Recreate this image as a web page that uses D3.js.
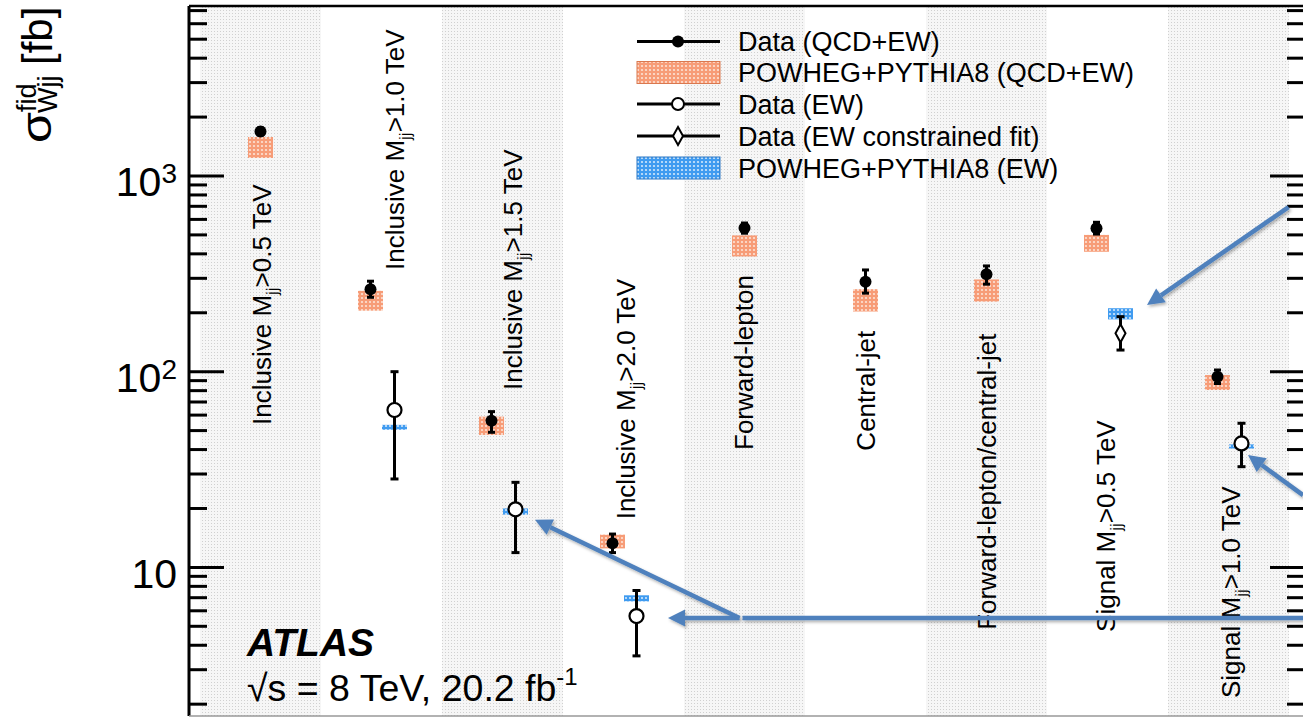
<!DOCTYPE html>
<html><head><meta charset="utf-8">
<script src="https://cdn.jsdelivr.net/npm/d3@7"></script>
<style>
html,body{margin:0;padding:0;background:#fff;}
svg{display:block;font-family:"Liberation Sans",Arial,Helvetica,sans-serif;}
</style></head>
<body>
<svg id="chart" width="1303" height="717"></svg>
<script>
// ---------------- data ----------------
const categories = [
  "Inclusive M_jj>0.5 TeV",
  "Inclusive M_jj>1.0 TeV",
  "Inclusive M_jj>1.5 TeV",
  "Inclusive M_jj>2.0 TeV",
  "Forward-lepton",
  "Central-jet",
  "Forward-lepton/central-jet",
  "Signal M_jj>0.5 TeV",
  "Signal M_jj>1.0 TeV"
];
// Data (QCD+EW)
const qcdData   = [1690, 264, 56.2, 13.3, 542, 288, 315, 540, 94.3];
const qcdErrLo  = [1620, 240, 49.0, 11.9, 510, 252, 280, 505, 87];
const qcdErrHi  = [1760, 290, 62.5, 14.8, 575, 331, 347, 580, 102];
// POWHEG+PYTHIA8 (QCD+EW) band
const qcdPredLo = [1236, 205, 47.5, 12.5, 388, 203, 228, 410, 80.6];
const qcdPredHi = [1582, 259, 58.9, 14.7, 497, 264, 296, 500, 96.1];
// Data (EW)
const ewData    = [null, 63.7, 19.8, 5.64, null, null, null, null, 43.0];
const ewErrLo   = [null, 28.3, 11.9, 3.53, null, null, null, null, 32.7];
const ewErrHi   = [null, 100, 27.2, 7.62, null, null, null, null, 54.5];
// Data (EW constrained fit)
const ewFit     = [null, null, null, null, null, null, null, 157, null];
const ewFitLo   = [null, null, null, null, null, null, null, 129, null];
const ewFitHi   = [null, null, null, null, null, null, null, 191, null];
// POWHEG+PYTHIA8 (EW) band
const ewPredLo  = [null, 50.5, 18.6, 6.7, null, null, null, 185, 40.5];
const ewPredHi  = [null, 53.5, 20.0, 7.2, null, null, null, 211, 42.5];
// y value where each rotated category label starts
const labelStart = [53.4, 331, 80.6, 17.6, 39.8, 39.5, 4.8, 4.68, 2.15];
// axis ticks
const majorTicks = [10, 100, 1000];
const majorTickLabels = [["10", ""], ["10", "2"], ["10", "3"]];
const yDomain = [1.74, 7390];
const legendItems = [
  {type: "dot",     label: "Data (QCD+EW)"},
  {type: "qcdBox",  label: "POWHEG+PYTHIA8 (QCD+EW)"},
  {type: "circle",  label: "Data (EW)"},
  {type: "diamond", label: "Data (EW constrained fit)"},
  {type: "ewBox",   label: "POWHEG+PYTHIA8 (EW)"}
];
// annotation arrows (anchored to categories / values)
const arrows = [
  {from: [8, 60, 694],  to: [7, 39.5, 219], head: true},
  {from: [8, 74.5, 23.4], to: [8, 19.5, 37.5], head: true},
  {from: [4, -5, 5.51], to: [3, 44.5, 5.51], head: true},
  {from: [4, -5, 5.51], to: [2, 32.5, 17.5], head: true},
  {from: [4, -2, 5.51], to: [8, 90, 5.51], head: false}
];

// ---------------- layout ----------------
const svg = d3.select("#chart");
const frame = {left: 189, right: 1305, top: 6, bottom: 716};
const x = d3.scaleBand().domain(d3.range(categories.length)).range([200, 1289]).padding(0);
const y = d3.scaleLog().domain(yDomain).range([frame.bottom, frame.top]);
const cx = i => x(i) + x.bandwidth() / 2;
const hasEW = i => ewData[i] != null || ewFit[i] != null;
const qx = i => cx(i) + (hasEW(i) ? -11 : 0);
const ex = i => cx(i) + 13;

const defs = svg.append("defs");
function dotPattern(id, size, bg, dot, r) {
  const p = defs.append("pattern").attr("id", id).attr("patternUnits", "userSpaceOnUse")
    .attr("width", size).attr("height", size);
  p.append("rect").attr("width", size).attr("height", size).attr("fill", bg);
  p.append("circle").attr("cx", size / 2).attr("cy", size / 2).attr("r", r).attr("fill", dot);
}
(function(){
  const p = defs.append("pattern").attr("id", "bgDots").attr("patternUnits", "userSpaceOnUse")
    .attr("width", 3).attr("height", 3);
  p.append("rect").attr("width", 3).attr("height", 3).attr("fill", "#f6f6f6");
  p.append("rect").attr("x", 1).attr("y", 1).attr("width", 1).attr("height", 1).attr("fill", "#d0d0d0");
})();
dotPattern("orangeHatch", 4, "#f79c77", "#fde3d6", 1.1);
dotPattern("blueHatch", 4, "#3f9bf0", "#d2e8fc", 1.1);
const shadow = defs.append("filter").attr("id", "shadow").attr("x", "-20%").attr("y", "-20%").attr("width", "140%").attr("height", "140%");
shadow.append("feDropShadow").attr("dx", 1.5).attr("dy", 2).attr("stdDeviation", 1.5).attr("flood-color", "#000").attr("flood-opacity", 0.3);

// shaded alternating columns
svg.append("g").selectAll("rect").data(d3.range(categories.length).filter(i => i % 2 === 0)).join("rect")
  .attr("x", i => x(i)).attr("width", x.bandwidth())
  .attr("y", frame.top).attr("height", frame.bottom - frame.top)
  .attr("fill", "url(#bgDots)");

// category labels (rotated)
const labG = svg.append("g").attr("font-size", 26).attr("fill", "#000");
categories.forEach((c, i) => {
  const off = [10.5, 22, 19.5, 11, 8, 9, 9, 7.5, 11.5][i];
  const t = labG.append("text")
    .attr("transform", `translate(${cx(i) + off},${y(labelStart[i])}) rotate(-90)`);
  const parts = c.split("_jj");
  t.append("tspan").text(parts[0]);
  if (parts.length > 1) {
    t.append("tspan").attr("font-size", 17).attr("dy", 7).text("jj");
    t.append("tspan").attr("dy", -7).text(parts[1]);
  }
});

// POWHEG QCD+EW bands
svg.append("g").selectAll("rect").data(d3.range(categories.length)).join("rect")
  .attr("x", i => qx(i) - 12.5).attr("width", 25)
  .attr("y", i => y(qcdPredHi[i])).attr("height", i => y(qcdPredLo[i]) - y(qcdPredHi[i]))
  .attr("fill", "url(#orangeHatch)");
// POWHEG EW bands
const ewIdx = d3.range(categories.length).filter(i => ewPredLo[i] != null);
svg.append("g").selectAll("rect").data(ewIdx).join("rect")
  .attr("x", i => ex(i) - 12.5).attr("width", 25)
  .attr("y", i => y(ewPredHi[i])).attr("height", i => Math.max(2.5, y(ewPredLo[i]) - y(ewPredHi[i])))
  .attr("fill", "url(#blueHatch)");

// error bars
function errBar(g, xpos, lo, hi, cap) {
  g.append("line").attr("x1", xpos).attr("x2", xpos).attr("y1", y(lo)).attr("y2", y(hi))
    .attr("stroke", "#000").attr("stroke-width", 3);
  [lo, hi].forEach(v => g.append("line").attr("x1", xpos - cap).attr("x2", xpos + cap)
    .attr("y1", y(v)).attr("y2", y(v)).attr("stroke", "#000").attr("stroke-width", 3));
}
const marks = svg.append("g");
d3.range(categories.length).forEach(i => {
  errBar(marks, qx(i), qcdErrLo[i], qcdErrHi[i], 3.5);
  if (ewData[i] != null) errBar(marks, ex(i), ewErrLo[i], ewErrHi[i], 4);
  if (ewFit[i] != null) errBar(marks, ex(i), ewFitLo[i], ewFitHi[i], 4);
});
marks.selectAll("circle.qcd").data(d3.range(categories.length)).join("circle").attr("class", "qcd")
  .attr("cx", i => qx(i)).attr("cy", i => y(qcdData[i])).attr("r", 6).attr("fill", "#000");
marks.selectAll("circle.ew").data(d3.range(categories.length).filter(i => ewData[i] != null)).join("circle").attr("class", "ew")
  .attr("cx", i => ex(i)).attr("cy", i => y(ewData[i])).attr("r", 7)
  .attr("fill", "#fff").attr("stroke", "#000").attr("stroke-width", 2.2);
const diamond = (px, py) => `M${px},${py - 9}L${px + 5},${py}L${px},${py + 9}L${px - 5},${py}Z`;
marks.selectAll("path.fit").data(d3.range(categories.length).filter(i => ewFit[i] != null)).join("path").attr("class", "fit")
  .attr("d", i => diamond(ex(i), y(ewFit[i])))
  .attr("fill", "#fff").attr("stroke", "#000").attr("stroke-width", 2);

// frame & axes
const minorTicks = y.ticks().filter(v => !majorTicks.includes(v));
function drawAxis(xPos, dir) {
  const g = svg.append("g");
  g.append("line").attr("x1", xPos).attr("x2", xPos).attr("y1", frame.top).attr("y2", frame.bottom)
    .attr("stroke", "#000").attr("stroke-width", 3);
  g.selectAll("line.mi").data(minorTicks).join("line").attr("class", "mi")
    .attr("x1", xPos).attr("x2", xPos + dir * 18).attr("y1", d => y(d)).attr("y2", d => y(d))
    .attr("stroke", "#000").attr("stroke-width", 3);
  g.selectAll("line.ma").data(majorTicks).join("line").attr("class", "ma")
    .attr("x1", xPos).attr("x2", xPos + dir * 35).attr("y1", d => y(d)).attr("y2", d => y(d))
    .attr("stroke", "#000").attr("stroke-width", 3);
}
drawAxis(frame.left, 1);
drawAxis(frame.right, -1);
svg.append("line").attr("x1", frame.left).attr("x2", frame.right).attr("y1", frame.top).attr("y2", frame.top)
  .attr("stroke", "#000").attr("stroke-width", 2.5);
svg.append("line").attr("x1", frame.left).attr("x2", frame.right).attr("y1", frame.bottom).attr("y2", frame.bottom)
  .attr("stroke", "#999").attr("stroke-width", 1.5);

// tick labels
majorTicks.forEach((v, k) => {
  const [base, sup] = majorTickLabels[k];
  const t = svg.append("text").attr("x", 177).attr("y", y(v) + 20.5).attr("text-anchor", "end")
    .attr("font-size", 41);
  t.append("tspan").text(base);
  if (sup) t.append("tspan").attr("font-size", 28).attr("dy", -13).text(sup);
});

// y title
const yt = svg.append("g").attr("transform", "translate(51,143) rotate(-90)");
yt.append("text").attr("transform", "scale(1.2,1)").attr("x", 0).attr("y", 0).attr("font-size", 42).text("σ");
yt.append("text").attr("x", 31).attr("y", -15).attr("font-size", 27).text("fid");
yt.append("text").attr("x", 30).attr("y", 6).attr("font-size", 27).text("Wjj");
yt.append("text").attr("x", 78).attr("y", 1).attr("font-size", 42).text("[fb]");

// ATLAS label
svg.append("text").attr("x", 247).attr("y", 656).attr("font-size", 39).attr("font-weight", "bold")
  .attr("font-style", "italic").text("ATLAS");
const en = svg.append("text").attr("x", 247).attr("y", 701).attr("font-size", 37.5);
en.append("tspan").text("√s = 8 TeV, 20.2 fb");
en.append("tspan").attr("font-size", 24).attr("dy", -16).text("-1");

// legend
const lg = svg.append("g");
const rowY = [41.5, 72.5, 104, 136, 168];
legendItems.forEach((it, k) => {
  const cy = rowY[k];
  if (it.type === "qcdBox" || it.type === "ewBox") {
    lg.append("rect").attr("x", 637).attr("y", cy - 11).attr("width", 83).attr("height", 22)
      .attr("fill", it.type === "qcdBox" ? "url(#orangeHatch)" : "url(#blueHatch)")
      .attr("stroke", it.type === "qcdBox" ? "#d9784f" : "#2f78c4").attr("stroke-width", 1);
  } else {
    lg.append("line").attr("x1", 637).attr("x2", 720).attr("y1", cy).attr("y2", cy)
      .attr("stroke", "#000").attr("stroke-width", 3);
    if (it.type === "dot") lg.append("circle").attr("cx", 678).attr("cy", cy).attr("r", 6).attr("fill", "#000");
    if (it.type === "circle") lg.append("circle").attr("cx", 678).attr("cy", cy).attr("r", 6)
      .attr("fill", "#fff").attr("stroke", "#000").attr("stroke-width", 2);
    if (it.type === "diamond") lg.append("path").attr("d", diamond(678, cy))
      .attr("fill", "#fff").attr("stroke", "#000").attr("stroke-width", 2);
  }
  lg.append("text").attr("x", 738).attr("y", cy + 9.5).attr("font-size", 27).text(it.label);
});

// annotation arrows
const ag = svg.append("g").attr("filter", "url(#shadow)");
const pt = a => [cx(a[0]) + a[1], y(a[2])];
arrows.forEach(a => {
  const [x1, y1] = pt(a.from), [x2, y2] = pt(a.to);
  const ang = Math.atan2(y2 - y1, x2 - x1);
  const hl = a.head ? 17 : 0, hw = 8.5;
  const bx = x2 - hl * Math.cos(ang), by = y2 - hl * Math.sin(ang);
  ag.append("line").attr("x1", x1).attr("y1", y1).attr("x2", bx).attr("y2", by)
    .attr("stroke", "#4f81bd").attr("stroke-width", 4.5);
  if (a.head) {
    const px = -Math.sin(ang) * hw, py = Math.cos(ang) * hw;
    ag.append("path").attr("d", `M${x2},${y2}L${bx + px},${by + py}L${bx - px},${by - py}Z`).attr("fill", "#4f81bd");
  }
});
</script>
</body></html>
